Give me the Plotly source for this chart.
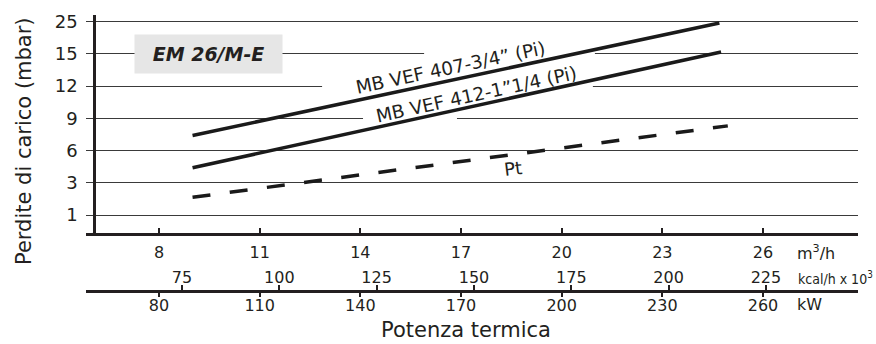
import numpy as np
import plotly.graph_objects as go

# ---------------- data ----------------
y_tick_values = [1, 3, 6, 9, 12, 15, 25]          # mbar (evenly spaced on chart)
y_tick_labels = ["1", "3", "6", "9", "12", "15", "25"]

m3h_ticks = [8, 11, 14, 17, 20, 23, 26]
kcal_ticks = [75, 100, 125, 150, 175, 200, 225]
kw_ticks = [80, 110, 140, 170, 200, 230, 260]

vef407_x = [9.0, 24.7]      # m3/h
vef407_y = [7.4, 24.6]      # mbar
vef412_x = [9.0, 24.75]
vef412_y = [4.4, 15.6]
pt_x = [9.0, 24.95]
pt_y = [2.1, 8.3]

FONT = "DejaVu Sans"
INK = "#231f20"


def ypos(v):
    return np.interp(v, y_tick_values, list(range(len(y_tick_values))))


# ---------------- geometry ----------------
W, H = 876, 344
ML, MR, MT, MB = 86, 18, 15, 53
PW = W - ML - MR
PH = H - MT - MB


def px_to_paper_x(px):
    return (px - ML) / PW


def px_to_paper_y(py):
    return (H - MB - py) / PH


x_range = [5.825, 28.83]
kcal_range = [50.34, 248.65]
kw_range = [x_range[0] * 10, x_range[1] * 10]
y_dom0 = px_to_paper_y(232.5)
y_range = [-0.543, 6.207]

fig = go.Figure()

fig.add_trace(go.Scatter(x=vef407_x, y=ypos(vef407_y), mode="lines",
                         line=dict(color="#1a1a1a", width=3.5), showlegend=False,
                         hoverinfo="skip"))
fig.add_trace(go.Scatter(x=vef412_x, y=ypos(vef412_y), mode="lines",
                         line=dict(color="#1a1a1a", width=3.5), showlegend=False,
                         hoverinfo="skip"))
fig.add_trace(go.Scatter(x=pt_x, y=ypos(pt_y), mode="lines",
                         line=dict(color="#1a1a1a", width=3.5, dash="18px,19.5px"),
                         showlegend=False, hoverinfo="skip"))
# dummy traces to register secondary axes
fig.add_trace(go.Scatter(x=[None], y=[None], xaxis="x2", yaxis="y", showlegend=False,
                         hoverinfo="skip"))
fig.add_trace(go.Scatter(x=[None], y=[None], xaxis="x3", yaxis="y", showlegend=False,
                         hoverinfo="skip"))

tickfont_x = dict(family=FONT, size=16, color=INK)

fig.update_layout(
    width=W, height=H,
    margin=dict(l=ML, r=MR, t=MT, b=MB),
    paper_bgcolor="white", plot_bgcolor="white",
    showlegend=False,
    xaxis=dict(domain=[0, 1], range=x_range, anchor="y",
               tickmode="array", tickvals=m3h_ticks, ticktext=[str(t) for t in m3h_ticks],
               ticks="inside", ticklen=5, tickwidth=1.5, tickcolor=INK,
               showline=True, linewidth=2.5, linecolor=INK,
               showgrid=False, zeroline=False, tickfont=tickfont_x,
               ticklabelstandoff=4),
    xaxis2=dict(domain=[0, 1], range=kcal_range, overlaying="x", anchor="free",
                position=0, side="top",
                tickmode="array", tickvals=kcal_ticks, ticktext=[str(t) for t in kcal_ticks],
                ticks="outside", ticklen=5, tickwidth=1.5, tickcolor=INK,
                showline=True, linewidth=2.5, linecolor=INK,
                showgrid=False, zeroline=False, tickfont=tickfont_x,
                ticklabelstandoff=-4),
    xaxis3=dict(domain=[0, 1], range=kw_range, overlaying="x", anchor="free",
                position=0, side="bottom",
                tickmode="array", tickvals=kw_ticks, ticktext=[str(t) for t in kw_ticks],
                ticks="outside", ticklen=5, tickwidth=1.5, tickcolor=INK,
                showline=False,
                showgrid=False, zeroline=False, tickfont=tickfont_x,
                ticklabelstandoff=-5),
    yaxis=dict(domain=[y_dom0, 1], range=y_range, anchor="free",
               position=px_to_paper_x(94),
               tickmode="array", tickvals=list(range(len(y_tick_values))),
               ticktext=y_tick_labels, ticks="",
               showline=True, linewidth=2.5, linecolor=INK,
               showgrid=True, gridcolor="#3a3a3a", gridwidth=1,
               zeroline=False, tickfont=dict(family=FONT, size=18, color=INK),
               ticklabelstandoff=12),
)

# extension of the vertical axis below the bottom line
fig.add_shape(type="line", xref="paper", yref="y",
              x0=px_to_paper_x(94), x1=px_to_paper_x(94), y0=y_range[0], y1=-0.72,
              line=dict(color=INK, width=2.5))

# white gaps in grid lines behind the curve labels
for gx0, gx1, gy in [(15.90, 20.99, 5), (12.86, 20.93, 4), (14.08, 16.88, 3)]:
    fig.add_shape(type="rect", xref="x", yref="y", x0=gx0, x1=gx1,
                  y0=gy - 0.12, y1=gy + 0.12, fillcolor="white",
                  line=dict(width=0), layer="between")

# title box
fig.add_annotation(xref="paper", yref="paper", x=px_to_paper_x(134), y=px_to_paper_y(54),
                   xanchor="left", yanchor="middle", width=147, height=38,
                   text="<b><i>EM 26/M-E</i></b>", showarrow=False,
                   bgcolor="#e6e6e6", borderpad=0, align="center",
                   font=dict(family=FONT, size=19, color=INK))


def line_at(xs, ys, x):
    return float(np.interp(x, xs, ypos(ys)))


# curve labels
fig.add_annotation(x=16.70, y=line_at(vef407_x, vef407_y, 16.70), yshift=13,
                   text="MB VEF 407-3/4\u201d (Pi)", showarrow=False, textangle=-12,
                   font=dict(family=FONT, size=18.5, color=INK))
fig.add_annotation(x=17.45, y=line_at(vef412_x, vef412_y, 17.45), yshift=11,
                   text="MB VEF 412-1\u201d1/4 (Pi)", showarrow=False, textangle=-12.4,
                   font=dict(family=FONT, size=18.5, color=INK))
fig.add_annotation(x=18.55, y=line_at(pt_x, pt_y, 18.55), yshift=-13.5,
                   text="Pt", showarrow=False, textangle=-7,
                   font=dict(family=FONT, size=18, color=INK))

# unit labels
fig.add_annotation(xref="paper", yref="paper", x=px_to_paper_x(795), y=px_to_paper_y(252),
                   xanchor="left", yanchor="middle", showarrow=False,
                   text="m<sup>3</sup>/h", font=dict(family=FONT, size=16, color=INK))
fig.add_annotation(xref="paper", yref="paper", x=px_to_paper_x(796), y=px_to_paper_y(278),
                   xanchor="left", yanchor="middle", showarrow=False,
                   text="kcal/h x 10<sup>3</sup>",
                   font=dict(family="DejaVu Sans Condensed, DejaVu Sans", size=14, color=INK))
fig.add_annotation(xref="paper", yref="paper", x=px_to_paper_x(795), y=px_to_paper_y(304),
                   xanchor="left", yanchor="middle", showarrow=False,
                   text="kW", font=dict(family=FONT, size=16, color=INK))

# axis titles
fig.add_annotation(xref="paper", yref="paper", x=px_to_paper_x(466), y=px_to_paper_y(330),
                   xanchor="center", yanchor="middle", showarrow=False,
                   text="Potenza termica", font=dict(family=FONT, size=21, color=INK))
fig.add_annotation(xref="paper", yref="paper", x=px_to_paper_x(24), y=px_to_paper_y(141),
                   xanchor="center", yanchor="middle", showarrow=False, textangle=-90,
                   text="Perdite di carico (mbar)", font=dict(family=FONT, size=21, color=INK))

fig.write_html("out.html")
